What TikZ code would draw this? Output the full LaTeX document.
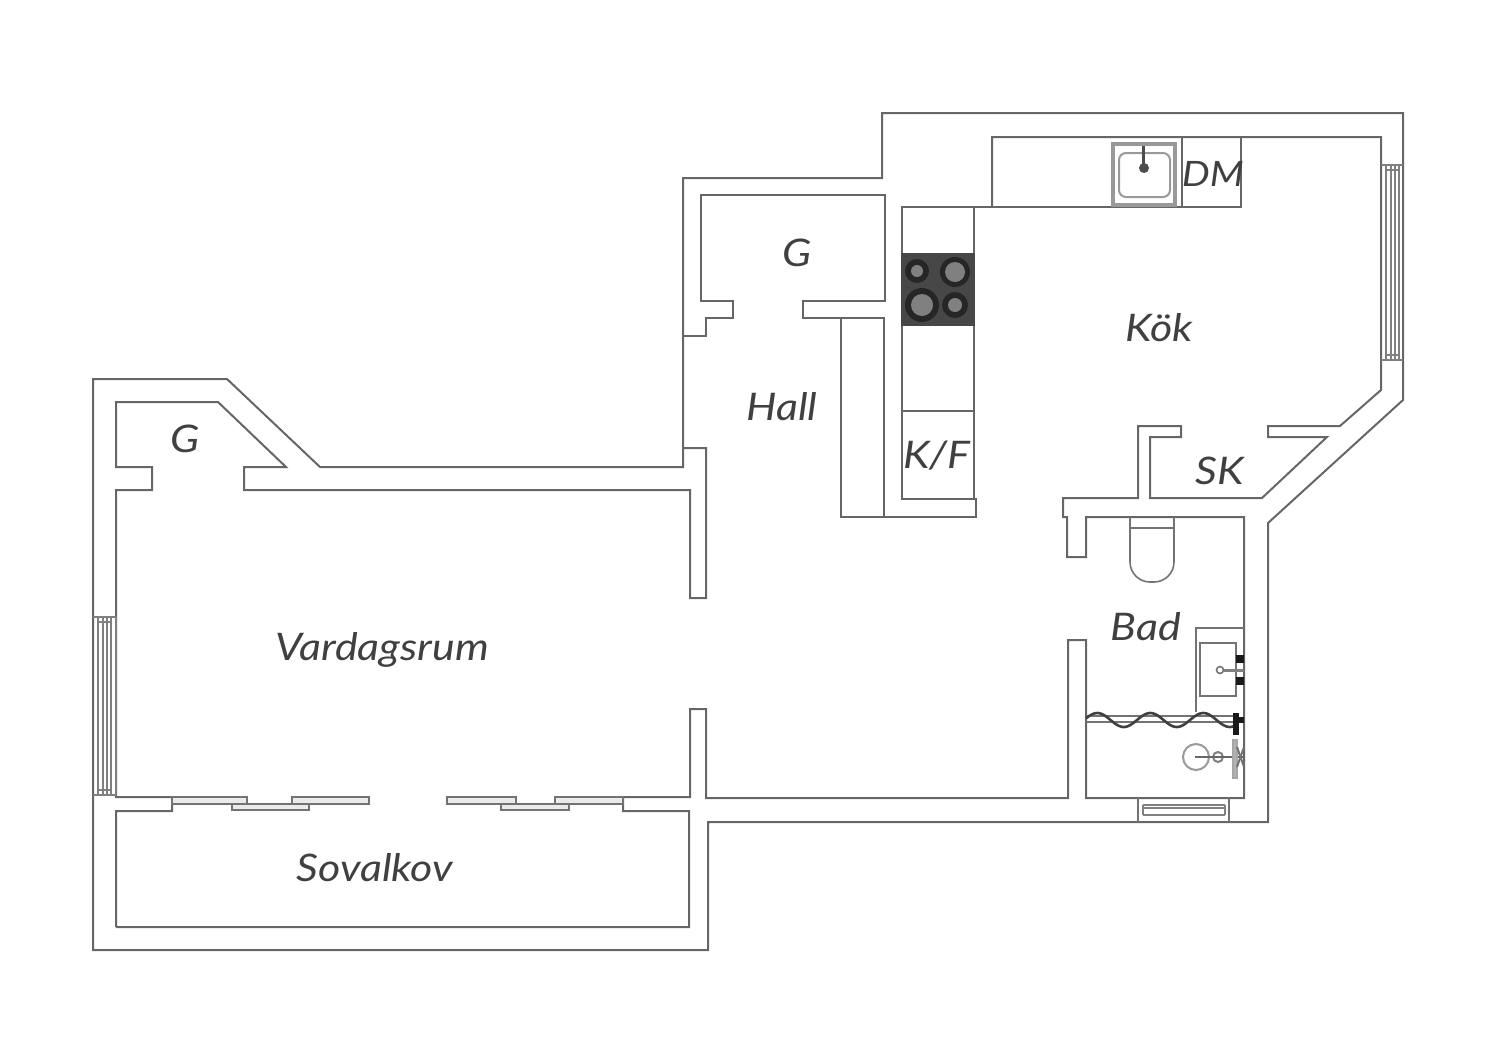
\documentclass[tikz,border=0pt]{standalone}
\usepackage{fontspec}
\setmainfont{Lato}[FakeStretch=1.13]
\begin{document}
\begin{tikzpicture}[x=1pt, y=-1pt, wall style/.style={draw=black!60, line width=2pt, line join=miter}, fixture style/.style={draw=black!55, line width=1.6pt}, pane style/.style={draw=black!50, line width=1.2pt}, room style/.style={text=black!75, font=\fontsize{38}{40}\selectfont\itshape, inner sep=0pt}]
	\useasboundingbox (0,0) rectangle (1500,1055);
	% outer wall
	\draw[wall style] (93,379) -- (227,379) -- (320,467) -- (683,467) -- (683,178) -- (882,178) -- (882,113) -- (1403,113) -- (1403,400) -- (1268,523) -- (1268,822) -- (708,822) -- (708,950) -- (93,950) -- cycle;
	% inner walls
	\draw[wall style] (116,927) -- (116,811) -- (172,811) -- (172,797) -- (116,797) -- (116,490) -- (152,490) -- (152,467) -- (116,467) -- (116,402) -- (218,402) -- (286,467) -- (244,467) -- (244,490) -- (690,490) -- (690,598) -- (706,598) -- (706,448) -- (683,448);
	\draw[wall style] (116,927) -- (689,927) -- (689,811) -- (623,811) -- (623,797) -- (690,797) -- (690,709) -- (706,709) -- (706,798) -- (1068,798) -- (1068,640) -- (1086,640) -- (1086,798) -- (1244,798) -- (1244,517) -- (1086,517) -- (1086,557) -- (1067,557) -- (1067,517) -- (1063,517) -- (1063,498) -- (1138,498) -- (1138,426) -- (1181,426) -- (1181,437) -- (1150,437) -- (1150,498) -- (1262,498) -- (1327,437) -- (1268,437) -- (1268,426) -- (1340,426) -- (1381,390) -- (1381,137) -- (992,137) -- (992,207);
	\draw[wall style] (683,336) -- (706,336) -- (706,318) -- (733,318) -- (733,301) -- (701,301) -- (701,195) -- (885,195) -- (885,301) -- (803,301) -- (803,318) -- (884,318) -- (884,517);
	\draw[wall style] (841,318) -- (841,517) -- (976,517) -- (976,499) -- (902,499) -- (902,207) -- (1241,207) -- (1241,137);
	\draw[wall style] (974,207) -- (974,499);
	\draw[wall style] (902,411) -- (974,411);
	\draw[wall style] (1182,137) -- (1182,207);
	% hob
	\fill[black!72] (901,253) rectangle (975,326);
	\foreach \bx/\by/\ro/\ri in {917/271/12/6, 955/272/15/10, 922/305/17/11, 955/305/13/7} {
		\fill[black!85] (\bx,\by) circle (\ro);
		\fill[black!50] (\bx,\by) circle (\ri);
	}
	% kitchen sink
	\draw[draw=black!40, line width=3.5pt] (1113,144) rectangle (1175,205);
	\draw[draw=black!40, line width=2pt, rounded corners=7pt] (1119,153) rectangle (1170,197);
	\draw[draw=black!70, line width=3pt] (1143,146) -- (1143,165);
	\fill[black!70] (1144,168) circle (5);
	% windows
	\foreach \wx in {98,103,107,111}
	\draw[pane style] (\wx,617) -- (\wx,795);
	\draw[pane style] (93,617) -- (116,617);
	\draw[pane style] (93,795) -- (116,795);
	\draw[pane style] (98,622) -- (111,622);
	\draw[pane style] (98,790) -- (111,790);
	\draw[pane style] (116,617) -- (116,795);
	\foreach \wx in {1386,1391,1395,1399}
	\draw[pane style] (\wx,165) -- (\wx,360);
	\draw[pane style] (1381,165) -- (1403,165);
	\draw[pane style] (1381,360) -- (1403,360);
	\draw[pane style] (1386,170) -- (1399,170);
	\draw[pane style] (1386,355) -- (1399,355);
	\foreach \wy in {805,808,815}
	\draw[pane style] (1143,\wy) -- (1225,\wy);
	\draw[fixture style] (1138,798) -- (1138,822);
	\draw[fixture style] (1229,798) -- (1229,822);
	\draw[pane style] (1143,805) -- (1143,815);
	\draw[pane style] (1225,805) -- (1225,815);
	% sliding doors
	\foreach \dl/\dr/\dt/\db in {172/247/797/804, 232/309/804/810, 292/369/797/804, 447/516/797/804, 501/569/804/810, 555/623/797/804}
	\draw[fixture style, fill=black!8] (\dl,\dt) rectangle (\dr,\db);
	% toilet
	\draw[fixture style, rounded corners=20pt] (1130,517) -- (1130,582) -- (1174,582) -- (1174,517);
	\draw[fixture style] (1130,528) -- (1174,528);
	% bathroom sink
	\draw[fixture style] (1196,712) -- (1196,628) -- (1244,628);
	\draw[fixture style] (1200,643) rectangle (1236,696);
	\fill[black!90] (1236,655) rectangle (1244,663);
	\fill[black!90] (1236,677) rectangle (1244,685);
	\draw[draw=black!50, line width=3pt] (1224,670) -- (1244,670);
	\draw[fixture style, fill=white] (1220,670) circle (3.5);
	% shower
	\draw[fixture style] (1086,716) -- (1236,716);
	\draw[fixture style] (1086,722) -- (1236,722);
	\draw[draw=black!75, line width=2.6pt] plot[domain=1086:1235, samples=90] (\x,{720-7*sin((\x-1084)*6.79)});
	\fill[black!90] (1233,713) rectangle (1239,735);
	\fill[black!90] (1239,717) rectangle (1244,723);
	\draw[draw=black!40, line width=2pt] (1196,757) circle (13);
	\draw[draw=black!50, line width=2pt] (1218,757) circle (5);
	\draw[draw=black!60, line width=2.5pt] (1195,757) -- (1244,757);
	\draw[draw=black!35, line width=1.2pt, fill=black!30] (1233,740) rectangle (1237,778);
	\draw[draw=black!55, line width=2pt] (1237,747) -- (1244,767);
	\draw[draw=black!55, line width=2pt] (1237,767) -- (1244,747);
	% rooms
	\node[room style] (vardagsrum) at (382,650) {Vardagsrum};
	\node[room style] (sovalkov) at (375,868) {Sovalkov};
	\node[room style] (hall) at (782,407) {Hall};
	\node[room style] (gHall) at (797,253) {G};
	\node[room style] (gVardag) at (185,439) {G};
	\node[room style] (kok) at (1159,328) {Kök};
	\node[room style, font=\fontsize{35}{40}\selectfont\itshape] (dm) at (1213,174) {DM};
	\node[room style] (kf) at (937,456) {K/F};
	\node[room style] (sk) at (1220,471) {SK};
	\node[room style] (bad) at (1146,627) {Bad};
\end{tikzpicture}
\end{document}
